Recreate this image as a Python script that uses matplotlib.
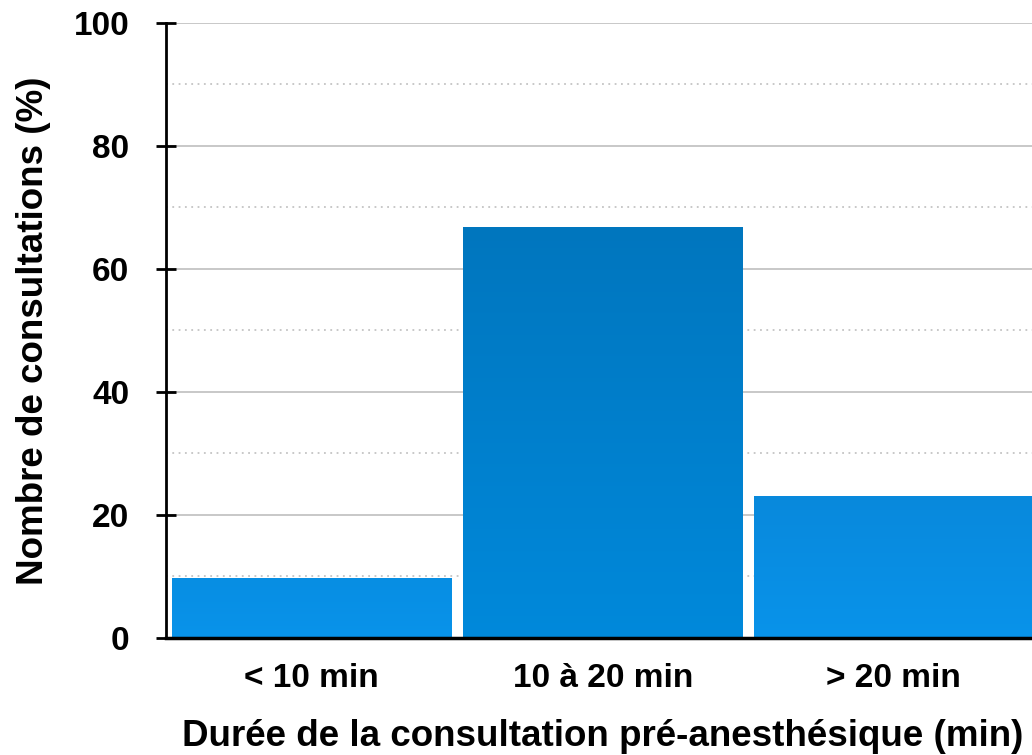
import matplotlib
matplotlib.use("Agg")
import matplotlib.pyplot as plt
import numpy as np
from matplotlib.colors import LinearSegmentedColormap
from matplotlib.ticker import MultipleLocator

plt.rcParams["font.family"] = ["Liberation Sans", "DejaVu Sans"]
plt.rcParams["font.weight"] = "bold"

categories = ["< 10 min", "10 à 20 min", "> 20 min"]
values = [9.7, 66.8, 23.0]
# (top colour, bottom colour) of each bar's gradient
bar_colors = [("#078ee3", "#0993ea"), ("#0076be", "#0089db"), ("#0889dc", "#0993ea")]

fig = plt.figure(figsize=(10.32, 7.55), dpi=100)
ax = fig.add_axes([0.161, 0.155, 0.846, 0.815])

x = np.arange(len(categories))
bars = ax.bar(x, values, width=0.96, color="none", zorder=2)

# gradient fill clipped to each bar
grad = np.linspace(0, 1, 256).reshape(-1, 1)
for bar, (top, bottom) in zip(bars, bar_colors):
    cmap = LinearSegmentedColormap.from_list("g", [bottom, top])
    x0, y0 = bar.get_x(), bar.get_y()
    w, h = bar.get_width(), bar.get_height()
    im = ax.imshow(grad, cmap=cmap, aspect="auto", origin="lower",
                   extent=[x0, x0 + w, y0, y0 + h], zorder=2)
    im.set_clip_path(bar)

ax.set_xlim(-0.5, len(categories) - 0.5)
ax.set_ylim(0, 100)
ax.yaxis.set_major_locator(MultipleLocator(20))
ax.yaxis.set_minor_locator(MultipleLocator(10))
ax.grid(axis="y", which="major", color="#c4c4c4", linewidth=1.3, zorder=0)
ax.grid(axis="y", which="minor", color="#c4c4c4", linewidth=1.3,
        linestyle=(0, (1, 2.5)), zorder=0)
ax.set_axisbelow(True)

ax.set_xticks(x)
ax.set_xticklabels(categories)
ax.tick_params(axis="x", length=0, pad=18, labelsize=24)
ax.tick_params(axis="y", which="major", direction="inout", length=15,
               width=2, labelsize=24, pad=19)
ax.tick_params(axis="y", which="minor", length=0)

for side in ("top", "right"):
    ax.spines[side].set_visible(False)
ax.spines["left"].set_linewidth(2)
ax.spines["bottom"].set_linewidth(2.5)

ax.set_ylabel("Nombre de consultations (%)", fontsize=26.5, fontweight="bold", labelpad=16)
ax.set_xlabel("Durée de la consultation pré-anesthésique (min)", fontsize=26.5,
              fontweight="bold", labelpad=18)

fig.savefig("out.png", dpi=100)
